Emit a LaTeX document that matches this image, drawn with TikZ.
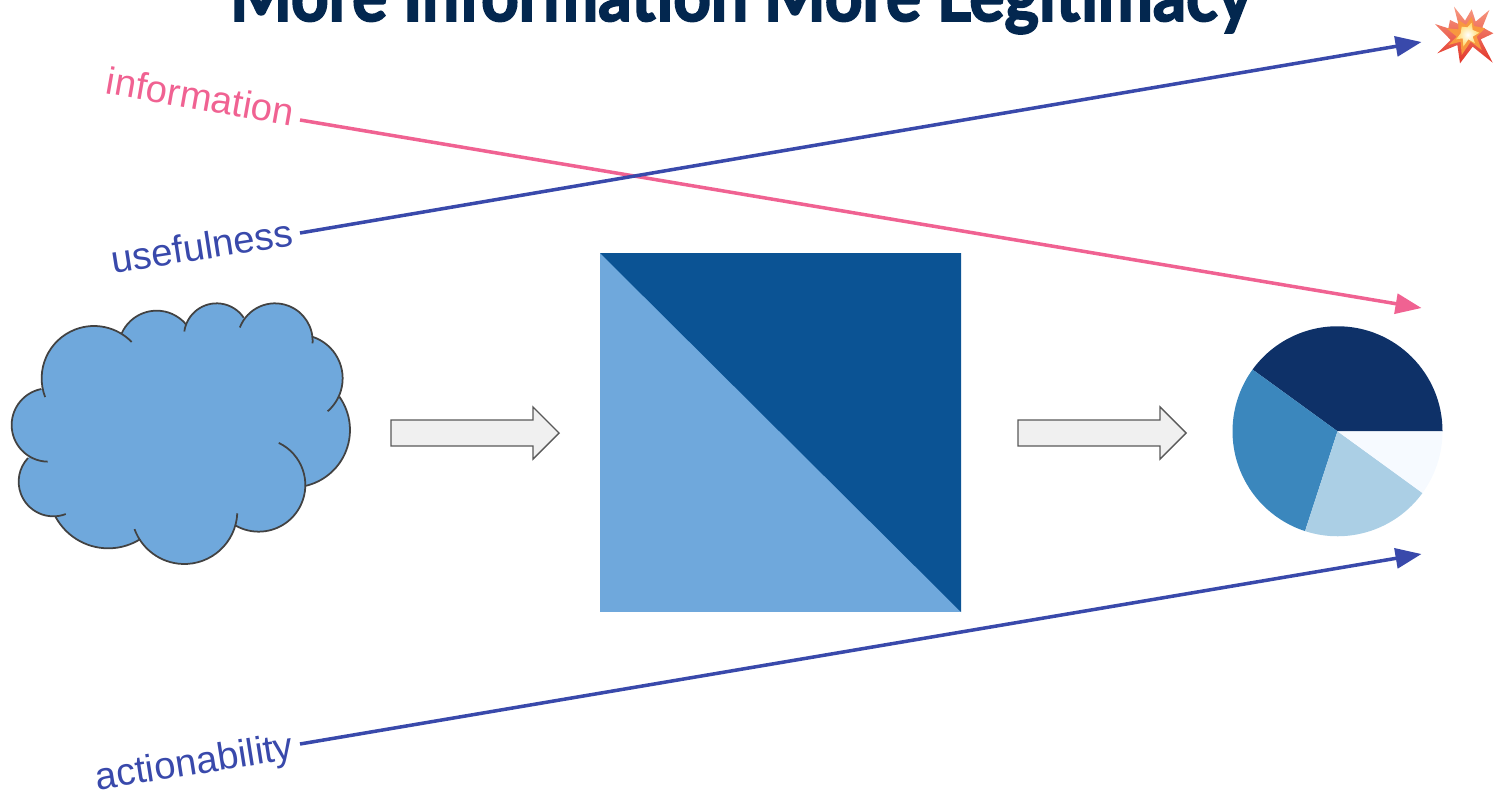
\documentclass[tikz,border=0pt]{standalone}
\usepackage{fontspec}
\setmainfont{Liberation Sans}
\newfontfamily\titlefont[BoldFeatures={FakeBold=2.5,FakeStretch=0.91}]{Lato}
\usepackage{xcolor}
\usetikzlibrary{arrows.meta, positioning}

\definecolor{cloudblue}{HTML}{6FA8DC}
\definecolor{squaredark}{HTML}{0B5394}
\definecolor{titleblue}{HTML}{03274F}
\definecolor{infopink}{HTML}{F06292}
\definecolor{linkblue}{HTML}{3949AB}
\definecolor{pieA}{HTML}{0E3168}
\definecolor{pieB}{HTML}{3B87BD}
\definecolor{pieC}{HTML}{ABCFE5}
\definecolor{pieD}{HTML}{F6FAFF}
\definecolor{boomTop}{HTML}{F79A83}
\definecolor{boomLow}{HTML}{E2352A}
\definecolor{boomMid}{HTML}{F8983F}
\definecolor{boomCore}{HTML}{FFD966}

\tikzset{
  wordlabel/.style={anchor=east, inner sep=0.14cm, font=\fontsize{21.8}{26}\selectfont},
  link/.style={line width=2pt, -{Triangle[length=0.52cm,width=0.4cm]}},
  blockarrow/.style={draw=black!65, fill=black!6, line width=0.8pt},
}

\begin{document}
\begin{tikzpicture}

    \clip (0,0) rectangle (30,15.92);

    % Title, cut off by the top edge
    \node[anchor=base, text=titleblue, font=\titlefont\bfseries\fontsize{41}{44}\selectfont] (title) at (14.82,15.5) {More Information More Legitimacy};

    % Cloud on the left
    \begin{scope}[shift={(0,10.12)}, x=1cm/150, y=1cm/150]
        \foreach \cx/\cy/\lobe in {282/265/157, 470/177/115, 650/138/98, 825/153/113, 897/265/131, 878/420/172, 776/585/140, 553/663/159, 325/595/180, 160/575/104, 145/405/110}
            \fill[cloudblue] (\cx,-\cy) circle[radius=\lobe];
        \fill[cloudblue] (282,-265) -- (650,-138) -- (897,-265) -- (776,-585) -- (553,-663) -- (160,-575) -- cycle;
        \foreach \cx/\cy/\lobe/\aa/\bb in {282/265/157/201/44, 470/177/115/156/40, 650/138/98/172/34, 825/153/113/159/-3.5, 897/265/131/73/-49, 878/420/172/35.5/-77.4, 776/585/140/64.5/-119.6, 553/663/159/-2.5/-160, 325/595/180/-58/-152, 160/575/104/-69/-223, 145/405/110/-91/-259}
            \draw[black!74, line width=1pt] ([shift={(\aa:\lobe)}]\cx,-\cy) arc[start angle=\aa, end angle=\bb, radius=\lobe];
    \end{scope}

    % Block arrows
    \foreach \x in {7.82,20.36}
        \draw[blockarrow] (\x,7.0) -- ++(2.84,0) -- ++(0,-0.26) -- ++(0.52,0.52) -- ++(-0.52,0.52) -- ++(0,-0.26) -- ++(-2.84,0) -- cycle;

    % Square in the middle
    \fill[cloudblue] (12,3.68) rectangle (19.22,10.86);
    \fill[squaredark] (12,10.86) -- (19.22,10.86) -- (19.22,3.68) -- cycle;

    % Pie on the right
    \coordinate (pieCentre) at (26.75,7.295);
    \fill[pieA] (pieCentre) -- ++(0:2.1) arc[start angle=0, end angle=144, radius=2.1] -- cycle;
    \fill[pieB] (pieCentre) -- ++(144:2.1) arc[start angle=144, end angle=252, radius=2.1] -- cycle;
    \fill[pieC] (pieCentre) -- ++(252:2.1) arc[start angle=252, end angle=324, radius=2.1] -- cycle;
    \fill[pieD] (pieCentre) -- ++(324:2.1) arc[start angle=324, end angle=360, radius=2.1] -- cycle;

    % Explosion, top right
    \begin{scope}[shift={(28.6,15.92)}, x=1cm/150, y=1cm/150]
        \shade[top color=boomTop, bottom color=boomLow] (72,-20) -- (105,-62) -- (125,-28) -- (137,-65) -- (178,-30) -- (157,-82) -- (190,-100) -- (152,-118) -- (188,-188) -- (128,-140) -- (90,-190) -- (82,-135) -- (22,-160) -- (62,-120) -- (15,-72) -- (55,-85) -- (60,-60) -- (85,-72) -- cycle;
        \fill[boomMid] (85,-60) -- (108,-75) -- (125,-50) -- (132,-78) -- (165,-85) -- (140,-110) -- (155,-150) -- (122,-125) -- (95,-165) -- (92,-125) -- (55,-135) -- (80,-110) -- (50,-85) -- (85,-88) -- cycle;
        \shade[inner color=white, outer color=boomCore] (95,-80) -- (112,-82) -- (125,-68) -- (128,-90) -- (148,-98) -- (128,-110) -- (135,-130) -- (115,-118) -- (100,-140) -- (98,-115) -- (78,-118) -- (92,-100) -- cycle;
    \end{scope}

    % Word labels and their arrows
    \coordinate (boomTip) at (28.43,15.08);
    \coordinate (pieTop) at (28.43,9.76);
    \coordinate (pieBottom) at (28.43,4.84);

    \node[wordlabel, text=infopink, rotate=-10, text depth=0.25cm] (infoLabel) at (6,13.52) {information};
    \node[wordlabel, text=linkblue, rotate=8.8, text depth=0.1cm] (usefulLabel) at (6,11.26) {usefulness};
    \node[wordlabel, text=linkblue, rotate=9, text depth=0cm] (actionLabel) at (6,1.04) {actionability};

    \draw[link, infopink] (infoLabel.east) -- (pieTop);
    \draw[link, linkblue] (usefulLabel.east) -- (boomTip);
    \draw[link, linkblue] (actionLabel.east) -- (pieBottom);

\end{tikzpicture}
\end{document}
